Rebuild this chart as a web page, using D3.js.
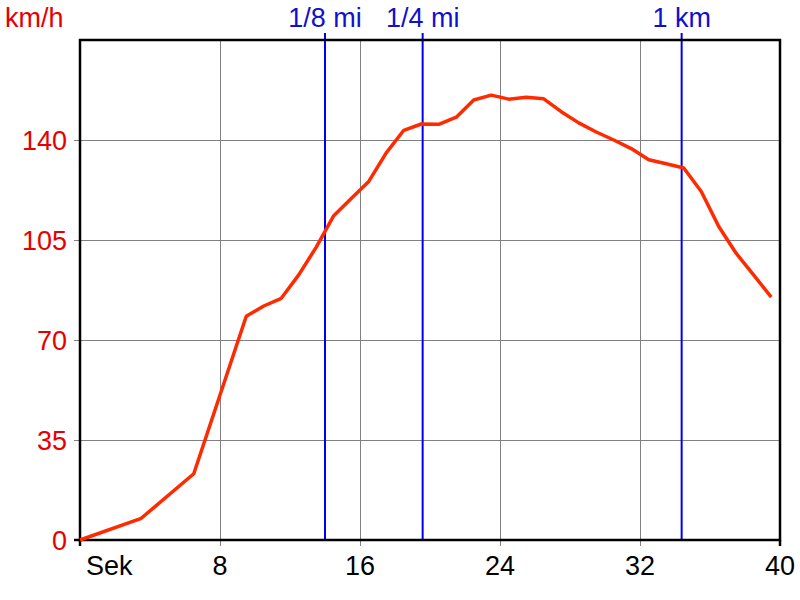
<!DOCTYPE html>
<html>
<head>
<meta charset="utf-8">
<script src="https://cdn.jsdelivr.net/npm/d3@7"></script>
<style>
  html, body { margin: 0; padding: 0; background: #fff; }
  svg { display: block; }
  text { font-family: "Liberation Sans", Arial, sans-serif; }
</style>
</head>
<body>
<svg id="chart" width="800" height="600"></svg>
<script>
// Data
const times = [0, 3.5, 6.5, 9.5, 10.5, 11.5, 12.5, 13.5, 14.5, 15.5, 16.5, 17.5, 18.5, 19.5, 20.5, 21.5, 22.5, 23.5, 24.5, 25.5, 26.5, 27.5, 28.5, 29.5, 30.5, 31.5, 32.5, 33.5, 34.5, 35.5, 36.5, 37.5, 38.5, 39.5];
const speeds = [0, 7.6, 23.2, 78.3, 81.9, 84.6, 92.8, 102.5, 113.5, 119.5, 125.5, 135.5, 143.4, 145.6, 145.5, 148, 154, 155.7, 154.3, 155, 154.4, 149.9, 146, 142.8, 140, 137, 133.1, 131.7, 130.2, 122, 109.7, 100.3, 92.7, 85];
const xTickValues = [0, 8, 16, 24, 32, 40];
const xTickLabels = ["Sek", "8", "16", "24", "32", "40"];
const yTickValues = [0, 35, 70, 105, 140];
const markerTimes = [14.0, 19.58, 34.38];
const markerLabels = ["1/8 mi", "1/4 mi", "1 km"];
const yUnit = "km/h";

(function () {
  const svg = d3.select("#chart");
  const mL = 80, mR = 780, mT = 40, mB = 540;
  const fs = 27;
  const x = d3.scaleLinear().domain([0, 40]).range([mL, mR]);
  const y = d3.scaleLinear().domain([0, 175]).range([mB, mT]);

  // grid lines
  const grid = svg.append("g");
  xTickValues.slice(1, -1).forEach(v => {
    grid.append("line").attr("x1", x(v)).attr("x2", x(v)).attr("y1", mT).attr("y2", mB + 6)
      .attr("stroke", "#808080").attr("stroke-width", 1).attr("shape-rendering", "crispEdges");
  });
  yTickValues.slice(1).forEach(v => {
    grid.append("line").attr("x1", mL - 6).attr("x2", mR).attr("y1", y(v)).attr("y2", y(v))
      .attr("stroke", "#808080").attr("stroke-width", 1).attr("shape-rendering", "crispEdges");
  });

  // markers
  markerTimes.forEach((t, i) => {
    svg.append("line").attr("x1", x(t)).attr("x2", x(t)).attr("y1", mT - 7).attr("y2", mB)
      .attr("stroke", "#0000ee").attr("stroke-width", 2);
    svg.append("text").attr("x", x(t)).attr("y", 27).attr("text-anchor", "middle")
      .attr("font-size", fs).attr("fill", "#1010cc").text(markerLabels[i]);
  });

  // frame
  svg.append("rect").attr("x", mL).attr("y", mT).attr("width", mR - mL).attr("height", mB - mT)
    .attr("fill", "none").attr("stroke", "#000").attr("stroke-width", 2.5);
  [mL, mR].forEach(px => {
    svg.append("line").attr("x1", px).attr("x2", px).attr("y1", mB).attr("y2", mB + 6)
      .attr("stroke", "#000").attr("stroke-width", 2.5);
  });
  svg.append("line").attr("x1", mL - 6).attr("x2", mL).attr("y1", mB).attr("y2", mB)
    .attr("stroke", "#000").attr("stroke-width", 2.5);

  // data line
  const line = d3.line().x((d, i) => x(times[i])).y(d => y(d));
  svg.append("path").datum(speeds).attr("d", line).attr("fill", "none")
    .attr("stroke", "#ff2a00").attr("stroke-width", 3.5).attr("stroke-linejoin", "round");

  // y labels
  yTickValues.forEach(v => {
    svg.append("text").attr("x", 67).attr("y", y(v) + 9.5).attr("text-anchor", "end")
      .attr("font-size", fs).attr("fill", "#e60000").text(v);
  });
  svg.append("text").attr("x", 5).attr("y", 27).attr("font-size", fs).attr("fill", "#e60000").text(yUnit);

  // x labels
  xTickValues.forEach((v, i) => {
    const isFirst = i === 0;
    svg.append("text").attr("x", isFirst ? x(v) + 6 : x(v)).attr("y", 575)
      .attr("text-anchor", isFirst ? "start" : "middle")
      .attr("font-size", fs).attr("fill", "#000").text(xTickLabels[i]);
  });
})();
</script>
</body>
</html>
